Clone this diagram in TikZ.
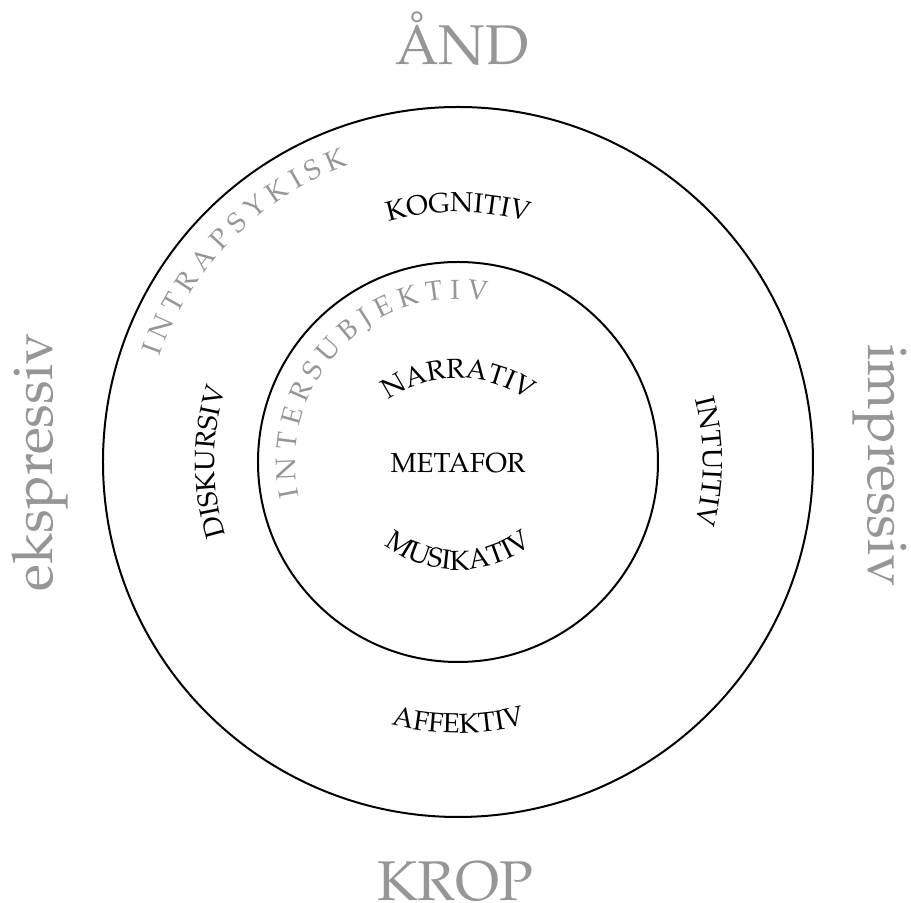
\documentclass[tikz,border=0pt]{standalone}
\usepackage[T1]{fontenc}
\usepackage{mathpazo}
\usetikzlibrary{decorations.text}
\definecolor{ringgray}{RGB}{150,150,150}
\newcommand\dgWord{\fontsize{13.8}{16}\selectfont}
\newcommand\dgRing{\fontsize{13.8}{16}\selectfont\color{ringgray}}
\tikzset{
  ring/.style={draw=black, line width=1pt},
  bigword/.style={text=ringgray, font=\fontsize{28}{32}\selectfont, inner sep=0pt, anchor=base},
  word/.style={font=\dgWord, inner sep=0pt, anchor=base},
  arctext/.style={decorate, decoration={text along path, text align=center, text={#1}}},
}
\begin{document}
\begin{tikzpicture}[x=0.5pt,y=0.5pt]
\useasboundingbox (-458,-441) rectangle (453,462);
\coordinate (c) at (0,0);
% circles
\draw[ring] (c) circle[radius=355];
\draw[ring] (c) circle[radius=200];
% big gray labels
\node[bigword] (aand) at (4,397) {\AA{}ND};
\node[bigword] (krop) at (-3,-439) {KROP};
\node[bigword, rotate=90] (eks) at (-405,0) {ekspressiv};
\node[bigword, rotate=-90] (imp) at (410,-4) {impressiv};
% centre
\node[word] (meta) at (0,-11) {METAFOR};
% outer ring words
\path[arctext={|\dgWord|KOGNITIV}] (120:250) arc[start angle=120, end angle=60, radius=250];
\path[arctext={|\dgWord|AFFEKTIV}] (240:271) arc[start angle=240, end angle=300, radius=271];
\path[arctext={|\dgWord|DISKURSIV}] (210:244) arc[start angle=210, end angle=150, radius=244];
\path[arctext={|\dgWord|INTUITIV}] (30:245) arc[start angle=30, end angle=-30, radius=245];
% inner words
\path[arctext={|\dgWord|NARRATIV}] (0,-36) ++(130:120) arc[start angle=130, end angle=50, radius=120];
\path[arctext={|\dgWord|MUSIKATIV}] (0,12) ++(230:120) arc[start angle=230, end angle=310, radius=120];
% gray ring names
\path[arctext={|\dgRing|I N T R A P S Y K I S K}] (175.5:317) arc[start angle=175.5, end angle=95.5, radius=317];
\path[arctext={|\dgRing|I N T E R S U B J E K T I V}] (206:163) arc[start angle=206, end angle=66, radius=163];
\end{tikzpicture}
\end{document}
